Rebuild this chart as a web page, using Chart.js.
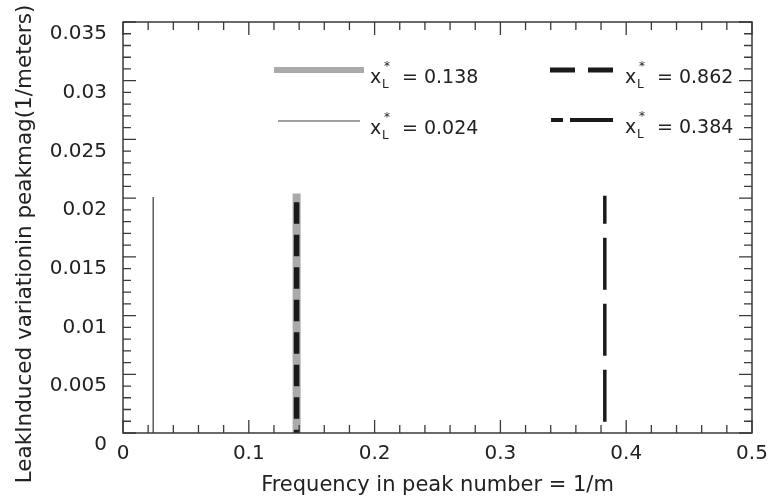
<!DOCTYPE html>
<html>
<head>
<meta charset="utf-8">
<script src="https://cdn.jsdelivr.net/npm/chart.js@4/dist/chart.umd.min.js"></script>
<style>
  html, body { margin: 0; padding: 0; background: #fff; }
  #wrap { width: 768px; height: 500px; }
</style>
</head>
<body>
<div id="wrap"><canvas id="myChart" width="768" height="500"></canvas></div>
<script>
// data
var xLValues = ['0.138', '0.024', '0.862', '0.384'];
var peakFreq = [0.138, 0.024, 0.138, 0.383];
var peakMag = [0.0204, 0.0201, 0.0204, 0.0202];
var xTicks = [0, 0.1, 0.2, 0.3, 0.4, 0.5];
var yTicks = [0, 0.005, 0.01, 0.015, 0.02, 0.025, 0.03, 0.035];
var yTitle = 'LeakInduced variationin peakmag(1/meters)';
var xTitle = 'Frequency in peak number = 1/m';

var FONT = '"DejaVu Sans", "Liberation Sans", Arial, sans-serif';

var styles = [
  { color: '#aaaaaa', width: 8, dash: [], off: 0, legDash: [], legWidth: 6 },
  { color: '#444444', width: 1.3, dash: [], off: 0, legDash: [], legWidth: 1.2 },
  { color: '#1a1a1a', width: 5.5, dash: [21.7, 10.8], off: 23.8, legDash: [25, 13], legWidth: 5 },
  { color: '#1a1a1a', width: 3.5, dash: [52, 14], off: 24, legDash: [12, 7, 43, 7], legWidth: 4 }
];
var drawOrder = [3, 2, 0, 1]; // lower = drawn on top

var datasets = xLValues.map(function (lab, i) {
  return {
    label: lab,
    // drawn from the top down so the dash pattern starts at the peak
    data: [{ x: peakFreq[i], y: peakMag[i] }, { x: peakFreq[i], y: 0 }],
    showLine: true,
    fill: false,
    order: drawOrder[i],
    borderColor: styles[i].color,
    borderWidth: styles[i].width,
    borderDash: styles[i].dash,
    borderDashOffset: styles[i].off,
    borderCapStyle: 'butt',
    pointRadius: 0,
    tension: 0
  };
});

var frame = {
  id: 'frame',
  afterDatasetsDraw: function (chart) {
    var c = chart.ctx, a = chart.chartArea;
    var xs = chart.scales.x, ys = chart.scales.y;
    c.save();
    c.strokeStyle = '#3a3a3a';
    c.lineWidth = 1.5;
    c.strokeRect(a.left, a.top, a.right - a.left, a.bottom - a.top);
    c.lineWidth = 1.3;
    c.beginPath();
    var v, p, len;
    for (v = 0; v <= 0.5001; v += 0.02) {
      p = xs.getPixelForValue(v);
      len = Math.abs(v * 10 - Math.round(v * 10)) < 1e-6 ? 13 : 8;
      c.moveTo(p, a.bottom); c.lineTo(p, a.bottom - len);
      c.moveTo(p, a.top); c.lineTo(p, a.top + len);
    }
    for (v = 0; v <= 0.03501; v += 0.001) {
      p = ys.getPixelForValue(v);
      len = Math.abs(v * 200 - Math.round(v * 200)) < 1e-6 ? 13 : 8;
      c.moveTo(a.left, p); c.lineTo(a.left + len, p);
      c.moveTo(a.right, p); c.lineTo(a.right - len, p);
    }
    c.stroke();

    // y axis title, a bit lower than the plot centre as in the figure
    c.save();
    c.translate(25, 244);
    c.rotate(-Math.PI / 2);
    c.fillStyle = '#222';
    c.font = '21.5px ' + FONT;
    c.textAlign = 'center';
    c.textBaseline = 'middle';
    c.fillText(yTitle, 0, 0);
    c.restore();

    // legend inside the plot
    var items = [
      { i: 0, x1: 274, x2: 364, y: 70, tx: 370 },
      { i: 1, x1: 278, x2: 360, y: 121, tx: 370 },
      { i: 2, x1: 550, x2: 613, y: 70, tx: 625 },
      { i: 3, x1: 551, x2: 613, y: 120, tx: 625 }
    ];
    items.forEach(function (it) {
      var s = styles[it.i];
      c.strokeStyle = s.color;
      c.lineWidth = s.legWidth;
      c.setLineDash(s.legDash);
      c.beginPath();
      c.moveTo(it.x1, it.y); c.lineTo(it.x2, it.y);
      c.stroke();
      c.setLineDash([]);
      c.fillStyle = '#222';
      c.textBaseline = 'alphabetic';
      c.textAlign = 'left';
      var base = it.y + 13;
      c.font = '19px ' + FONT;
      c.fillText('x', it.tx, base);
      c.font = '12px ' + FONT;
      c.fillText('L', it.tx + 12, base + 5);
      c.fillText('*', it.tx + 14, base - 13);
      c.font = '19px ' + FONT;
      c.fillText('= ' + xLValues[it.i], it.tx + 32, base);
    });
    c.restore();
  }
};

var ctx = document.getElementById('myChart').getContext('2d');
var myChart = new Chart(ctx, {
  type: 'scatter',
  data: { datasets: datasets },
  options: {
    responsive: false,
    animation: false,
    layout: { autoPadding: false, padding: { top: 22, right: 16, left: 0, bottom: 0 } },
    plugins: { legend: { display: false }, tooltip: { enabled: false } },
    scales: {
      x: {
        type: 'linear', min: 0, max: 0.5,
        afterBuildTicks: function (s) { s.ticks = xTicks.map(function (v) { return { value: v }; }); },
        afterFit: function (s) {
          s.height = 67;
          s.paddingLeft = 0; s.paddingRight = 0;
        },
        grid: { display: false, drawTicks: false },
        border: { display: false },
        ticks: {
          padding: 9, color: '#222',
          font: { family: FONT, size: 20 },
          callback: function (v) { return String(v); }
        },
        title: {
          display: true, text: xTitle, color: '#222',
          font: { family: FONT, size: 21 },
          padding: { top: 0, bottom: 2 }
        }
      },
      y: {
        type: 'linear', min: 0, max: 0.035,
        afterBuildTicks: function (s) { s.ticks = yTicks.map(function (v) { return { value: v }; }); },
        afterFit: function (s) {
          s.width = 123;
          s.paddingTop = 0; s.paddingBottom = 0;
        },
        grid: { display: false, drawTicks: false },
        border: { display: false },
        ticks: {
          padding: 16, color: '#222', labelOffset: 12,
          font: { family: FONT, size: 20 },
          callback: function (v) { return String(v); }
        },
        title: { display: false }
      }
    }
  },
  plugins: [frame]
});
</script>
</body>
</html>
